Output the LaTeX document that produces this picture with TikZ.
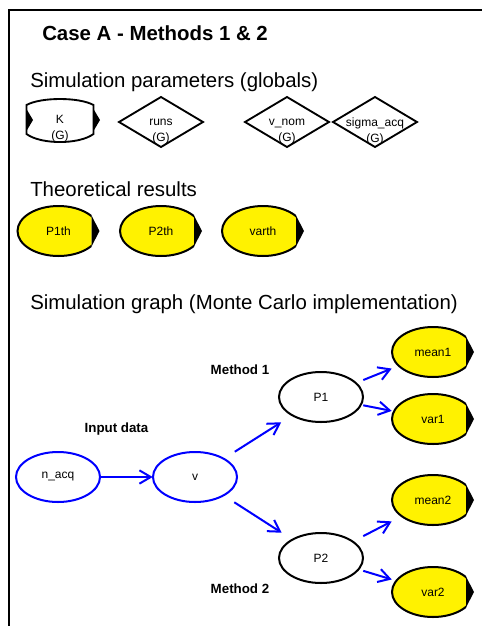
\documentclass[tikz,border=0pt]{standalone}
\usepackage{fontspec}
\setmainfont{Liberation Sans}
\usetikzlibrary{arrows.meta, backgrounds}

\begin{document}
\begin{tikzpicture}[x=0.75pt, y=-0.75pt,
    heading/.style={anchor=base west, inner sep=0pt, font=\fontsize{15.3}{18}\selectfont},
    tag/.style={anchor=base, font=\fontsize{10}{12}\selectfont\bfseries},
    param/.style={align=center, inner sep=0pt, font=\fontsize{9}{12}\selectfont},
    gnode/.style={rectangle, minimum width=63pt, minimum height=37.5pt, inner sep=0pt, font=\fontsize{9}{12}\selectfont},
    result/.style={rectangle, minimum width=61.5pt, minimum height=37.5pt, inner sep=0pt, font=\fontsize{9}{12}\selectfont},
    flow/.style={blue, line width=1.5pt, -{Straight Barb[length=8.5pt, width=10pt]}}
  ]
\useasboundingbox (0,0) rectangle (482,626);
\draw[line width=1.4pt] (9,626) -- (9,10) -- (482,10);

\node[heading, font=\fontsize{15.3}{18}\selectfont\bfseries] (title) at (42,40) {Case A - Methods 1 \& 2};
\node[heading] (params) at (30,87) {Simulation parameters (globals)};
\node[heading] (theory) at (30,196) {Theoretical results};
\node[heading] (graph) at (30,309) {Simulation graph (Monte Carlo implementation)};

% globals
\node[param] (K) at (60,129) {K\\(G)};
\node[param] (runs) at (161,131.5) {runs\\(G)};
\node[param] (v_nom) at (287,131.5) {v\_nom\\(G)};
\node[param] (sigma_acq) at (375,131.5) {sigma\_acq\\(G)};

% theoretical results
\node[result] (P1th) at (58.5,231) {P1th};
\node[result] (P2th) at (161,231) {P2th};
\node[result] (varth) at (263,231) {varth};

% monte carlo graph
\node[tag] (input) at (116.5,432) {Input data};
\node[tag] (m1) at (240,374) {Method 1};
\node[tag] (m2) at (240,593) {Method 2};

\node[gnode] (n_acq) at (58,477) {n\_acq};
\node[gnode] (v) at (195,477) {v};
\node[gnode] (P1) at (321,397) {P1};
\node[gnode] (P2) at (321,558) {P2};
\node[result] (mean1) at (433,352) {mean1};
\node[result] (var1) at (433,419) {var1};
\node[result] (mean2) at (433,500) {mean2};
\node[result] (var2) at (433,592) {var2};

\draw[flow] (n_acq) -- (v);
\draw[flow] (v) -- (P1);
\draw[flow] (v) -- (P2);
\draw[flow] (P1) -- (mean1);
\draw[flow] (P1) -- (var1);
\draw[flow] (P2) -- (mean2);
\draw[flow] (P2) -- (var2);

\begin{scope}[on background layer]
  \begin{scope}[shift={(K.center)}]
    \draw[line width=1.4pt] (-33.5,-24) .. controls (-19,-32) and (19,-32) .. (33.5,-24)
      -- (33.5,5) .. controls (19,15.7) and (-19,15.7) .. (-33.5,5) -- cycle;
    \fill (-33.5,-20) -- (-27,-9) -- (-33.5,2) -- cycle;
    \fill (33.5,-20) -- (40,-9) -- (33.5,2) -- cycle;
  \end{scope}
  \foreach \n in {runs, v_nom, sigma_acq}
    \draw[line width=1.4pt, shift={(\n.center)}] (-42,-9.5) -- (0,-34.5) -- (42,-9.5) -- (0,15.5) -- cycle;
  \foreach \n in {n_acq, v}
    \draw[blue, line width=1.5pt] (\n.center) ellipse [x radius=31.5pt, y radius=18.75pt];
  \foreach \n in {P1, P2}
    \draw[line width=1.5pt] (\n.center) ellipse [x radius=31.5pt, y radius=18.75pt];
  \foreach \n in {P1th, P2th, varth, mean1, var1, mean2, var2} {
    \begin{scope}[shift={(\n.center)}]
      \clip (-45,-30) rectangle (33,30);
      \draw[fill=yellow, line width=1.5pt] (0,0) ellipse [x radius=30.75pt, y radius=18.75pt];
    \end{scope}
    \fill[shift={(\n.center)}] (33,-15.5) -- (41,0) -- (33,15.5) -- cycle;
  }
\end{scope}
\end{tikzpicture}
\end{document}
